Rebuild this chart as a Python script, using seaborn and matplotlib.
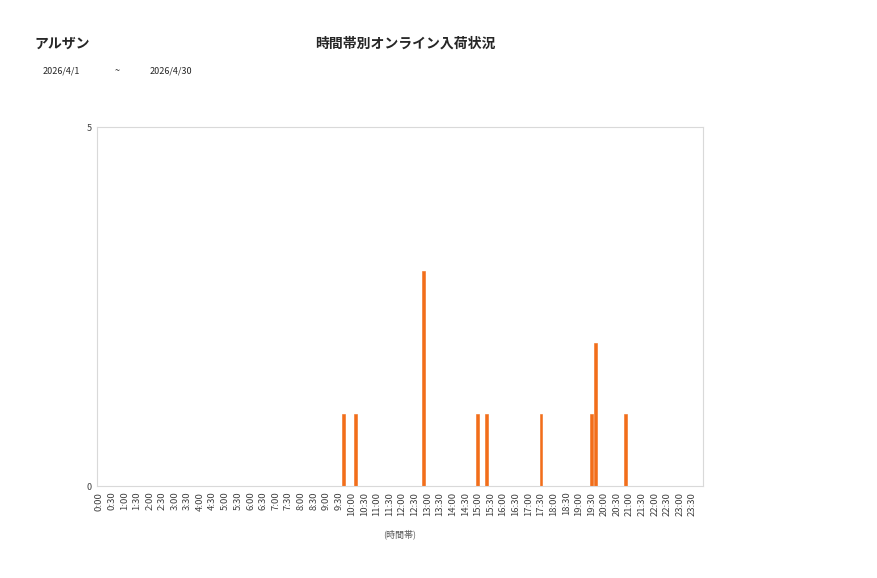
import matplotlib
matplotlib.use('Agg')
import matplotlib.pyplot as plt
import seaborn as sns
import pandas as pd

# 10-minute slots, labels every 30 min
slots = [f'{h}:{m:02d}' for h in range(24) for m in range(0, 60, 10)]
hit_times = ['9:40', '10:10', '12:50', '15:00', '15:20', '17:30', '19:30', '19:40', '20:50']
hit_counts = [1, 1, 3, 1, 1, 1, 1, 2, 1]
tick_labels = [f'{h}:{m:02d}' for h in range(24) for m in (0, 30)]

counts = dict(zip(hit_times, hit_counts))
df = pd.DataFrame({'slot': slots, 'count': [counts.get(s, 0) for s in slots]})

sns.set_style('white')
plt.rcParams['font.family'] = ['Noto Sans CJK JP', 'DejaVu Sans']

fig = plt.figure(figsize=(8.77, 5.78), dpi=100)
ax = fig.add_axes([0.1106, 0.159, 0.691, 0.621])

bar_color = '#F26E1A'
sns.barplot(data=df, x='slot', y='count', order=slots, color=bar_color,
            width=0.68, saturation=1, linewidth=0.4, edgecolor=bar_color, ax=ax)

ax.set_xlim(-0.5, len(slots) - 0.5)
ax.set_ylim(0, 5)
ax.set_yticks([0, 5])
ax.set_yticklabels(['0', '5'], fontsize=6.5, color='#404040')
ax.set_xticks(range(0, len(slots), 3))
ax.set_xticklabels(tick_labels, rotation=90, fontsize=6.8, color='#404040')
ax.tick_params(axis='both', length=0, pad=4)
ax.set_xlabel('(時間帯)', fontsize=6.5, color='#595959', labelpad=10)
ax.set_ylabel('')
for sp in ax.spines.values():
    sp.set_color('#D9D9D9')
    sp.set_linewidth(0.8)

fig.text(0.071, 0.925, 'アルザン', fontsize=10, fontweight='bold', ha='center', va='center')
fig.text(0.462, 0.925, '時間帯別オンライン入荷状況', fontsize=10, fontweight='bold',
         ha='center', va='center')
fig.text(0.048, 0.878, '2026/4/1', fontsize=6.5, va='center')
fig.text(0.131, 0.878, '~', fontsize=6.5, va='center')
fig.text(0.171, 0.878, '2026/4/30', fontsize=6.5, va='center')

fig.savefig('out.png', dpi=100)
